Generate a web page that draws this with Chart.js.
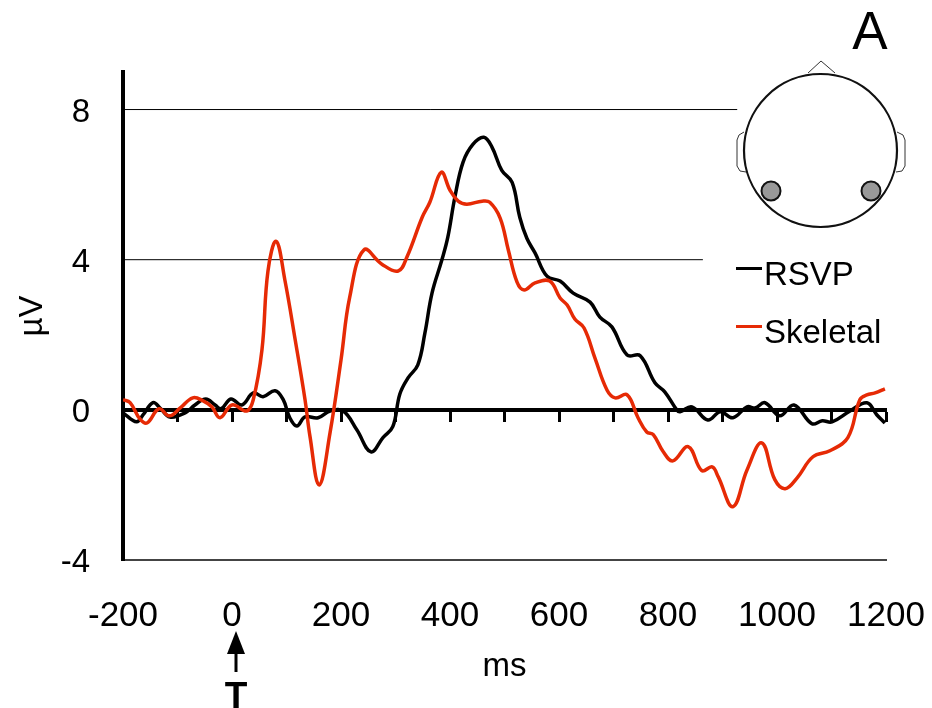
<!DOCTYPE html>
<html>
<head>
<meta charset="utf-8">
<title>ERP</title>
<script src="https://cdn.jsdelivr.net/npm/chart.js@4"></script>
<style>
html, body { margin: 0; padding: 0; background: #fff; }
canvas { display: block; }
</style>
</head>
<body>
<canvas id="grafica" width="932" height="708"></canvas>
<script>
var seriesNames = ["RSVP", "Skeletal"];
var seriesColors = ["#000000", "#e62a05"];

var rsvpTimes = [-200,-175,-163,-145,-132,-114,-86,-68,-48,-31,-20,-2,18,39,57,79,94,106,119,134,158,180,204,229,255,277,295,308,323,341,354,367,385,396,409,424,442,462,477,495,514,528,541,556,578,602,626,657,675,697,725,749,776,794,816,822,844,873,896,919,945,960,978,1005,1031,1064,1083,1101,1134,1165,1183,1198];
var rsvpValues = [-0.08,-0.32,-0.13,0.19,0.05,-0.19,-0.08,0.13,0.29,0.13,0.03,0.29,0.13,0.45,0.35,0.51,0.27,-0.21,-0.43,-0.19,-0.21,-0.03,-0.03,-0.53,-1.12,-0.74,-0.45,0.42,0.85,1.2,2.05,3.11,3.99,4.6,5.67,6.6,7.07,7.26,7.0,6.38,6.06,5.13,4.57,4.18,3.56,3.43,3.11,2.87,2.47,2.21,1.46,1.44,0.72,0.48,0,-0.05,0.08,-0.27,-0.05,-0.21,0.08,0.05,0.19,-0.16,0.13,-0.37,-0.29,-0.32,-0.03,0.19,-0.13,-0.35];

var skeletalTimes = [-200,-187,-169,-156,-134,-115,-95,-72,-53,-37,-22,0,27,39,55,66,81,97,116,134,143,160,180,200,216,242,275,305,321,349,363,384,400,415,431,459,473,492,507,523,536,556,583,602,615,629,646,666,688,703,725,745,761,773,791,809,837,862,881,892,919,945,972,996,1015,1037,1066,1097,1130,1152,1165,1180,1198];
var skeletalValues = [0.27,0.19,-0.24,-0.35,0.03,-0.16,0.05,0.32,0.24,0.08,-0.21,0.13,-0.03,0.27,1.6,3.7,4.49,3.46,1.86,0.27,-0.7,-2.0,-0.6,1.33,3.0,4.26,3.88,3.7,4.07,5.13,5.53,6.33,5.85,5.56,5.48,5.56,5.53,5.11,4.26,3.4,3.19,3.38,3.43,2.98,2.79,2.42,2.18,1.38,0.53,0.32,0.4,-0.21,-0.59,-0.66,-1.11,-1.36,-0.98,-1.62,-1.52,-1.78,-2.58,-1.6,-0.88,-1.86,-2.1,-1.81,-1.25,-1.09,-0.74,0.27,0.4,0.45,0.56];

var xLabels = [-200,0,200,400,600,800,1000,1200];
var xMarks = [-200,-100,0,100,200,300,400,500,600,700,800,900,1000,1100,1200];
var yLabels = [-4,0,4,8];
// lineas horizontales, se cortan antes de llegar a la cabeza y la leyenda
var guideValues = [8,4];
var guideEnds = [927,864];

function puntos(xs, ys) {
    return xs.map(function (x, i) { return {x: x, y: ys[i]}; });
}

function fijarTicks(valores) {
    return function (scale) {
        scale.ticks = valores.map(function (v) { return {value: v}; });
    };
}

var datasets = [
    {label: seriesNames[1], data: puntos(skeletalTimes, skeletalValues), borderColor: seriesColors[1], order: 1},
    {label: seriesNames[0], data: puntos(rsvpTimes, rsvpValues), borderColor: seriesColors[0], order: 2}
];
datasets.forEach(function (d) {
    d.borderWidth = 3.5;
    d.pointRadius = 0;
    d.tension = 0.4;
});
guideValues.forEach(function (v, i) {
    datasets.push({
        label: "guia" + v,
        data: [{x: -200, y: v}, {x: guideEnds[i], y: v}],
        borderColor: "#000",
        borderWidth: 1,
        pointRadius: 0,
        order: 3
    });
});

// baja un poco los numeros del eje y, como en el original
var bajarEtiquetas = {
    id: "bajarEtiquetas",
    beforeDraw: function (chart) {
        if (chart.$bajadas) return;
        chart.$bajadas = true;
        chart.scales.y.getLabelItems().forEach(function (item) {
            item.options.translation[1] += 3;
        });
    }
};

// cabeza, flecha, letras y leyenda
var extras = {
    id: "extras",
    afterDraw: function (chart) {
        var ctx = chart.ctx;
        ctx.save();

        ctx.fillStyle = "#000";
        ctx.textAlign = "center";
        ctx.textBaseline = "alphabetic";
        ctx.font = "53px 'Liberation Sans'";
        ctx.fillText("A", 870, 49);

        // cabeza
        ctx.strokeStyle = "#333";
        ctx.lineWidth = 1;
        ctx.beginPath();
        ctx.moveTo(808, 73);
        ctx.lineTo(821, 61);
        ctx.lineTo(835, 73);
        ctx.stroke();
        ctx.beginPath();
        ctx.moveTo(744, 132);
        ctx.lineTo(739, 135);
        ctx.lineTo(737, 140);
        ctx.lineTo(737, 166);
        ctx.lineTo(740, 171);
        ctx.lineTo(746, 172);
        ctx.moveTo(897, 132);
        ctx.lineTo(903, 135);
        ctx.lineTo(905, 140);
        ctx.lineTo(905, 166);
        ctx.lineTo(902, 171);
        ctx.lineTo(896, 172);
        ctx.stroke();

        ctx.strokeStyle = "#111";
        ctx.lineWidth = 2.2;
        ctx.beginPath();
        ctx.arc(820.5, 150.5, 76.5, 0, Math.PI * 2);
        ctx.stroke();

        ctx.fillStyle = "#999";
        ctx.lineWidth = 2;
        [771, 871].forEach(function (x) {
            ctx.beginPath();
            ctx.arc(x, 191, 9.5, 0, Math.PI * 2);
            ctx.fill();
            ctx.stroke();
        });

        // leyenda
        ctx.textAlign = "left";
        ctx.font = "33px 'Liberation Sans'";
        [285, 343].forEach(function (y, i) {
            ctx.fillStyle = seriesColors[i];
            ctx.fillRect(736, y - 18, 26, 3);
            ctx.fillStyle = "#000";
            ctx.fillText(seriesNames[i], 764, y);
        });

        // flecha del target
        ctx.fillStyle = "#000";
        ctx.fillRect(234.5, 650, 3, 22);
        ctx.beginPath();
        ctx.moveTo(236, 631);
        ctx.lineTo(245, 654);
        ctx.lineTo(227, 654);
        ctx.closePath();
        ctx.fill();
        ctx.textAlign = "center";
        ctx.font = "bold 37px 'Liberation Sans'";
        ctx.fillText("T", 236, 708);

        ctx.restore();
    }
};

var miCanvas = document.getElementById("grafica").getContext("2d");

var chart = new Chart(miCanvas, {
    type: "line",
    data: {datasets: datasets},
    plugins: [bajarEtiquetas, extras],
    options: {
        responsive: false,
        animation: false,
        layout: {padding: {top: 72, right: 46, left: 0, bottom: 0}},
        plugins: {legend: {display: false}, tooltip: {enabled: false}},
        scales: {
            x: {
                type: "linear",
                min: -200,
                max: 1200,
                afterBuildTicks: fijarTicks(xLabels),
                afterFit: function (scale) {
                    scale.height = 148;
                    scale.paddingLeft = 0;
                    scale.paddingRight = 0;
                },
                grid: {display: false},
                border: {color: "#444", width: 2},
                ticks: {
                    color: "#000",
                    padding: 27,
                    maxRotation: 0,
                    autoSkip: false,
                    callback: function (v) { return String(v); },
                    font: {family: "Liberation Sans", size: 35}
                },
                title: {
                    display: true,
                    text: "ms",
                    color: "#000",
                    font: {family: "Liberation Sans", size: 33},
                    padding: {bottom: 21}
                }
            },
            // eje en cero con sus marcas
            x2: {
                type: "linear",
                axis: "x",
                position: {y: 0},
                min: -200,
                max: 1200,
                afterBuildTicks: fijarTicks(xMarks),
                border: {color: "#000", width: 4},
                grid: {drawOnChartArea: false, drawTicks: true, tickLength: 10, tickWidth: 3, tickColor: "#000"},
                ticks: {display: false}
            },
            y: {
                type: "linear",
                min: -4,
                max: 9,
                afterBuildTicks: fijarTicks(yLabels),
                afterFit: function (scale) {
                    scale.width = 123;
                    scale.paddingTop = 0;
                    scale.paddingBottom = 0;
                },
                grid: {display: false},
                border: {color: "#000", width: 4},
                ticks: {
                    color: "#000",
                    padding: 25,
                    autoSkip: false,
                    font: {family: "Liberation Sans", size: 33}
                },
                title: {
                    display: true,
                    text: "µV",
                    color: "#000",
                    font: {family: "Liberation Sans", size: 33},
                    padding: {top: 13}
                }
            }
        }
    }
});
</script>
</body>
</html>
